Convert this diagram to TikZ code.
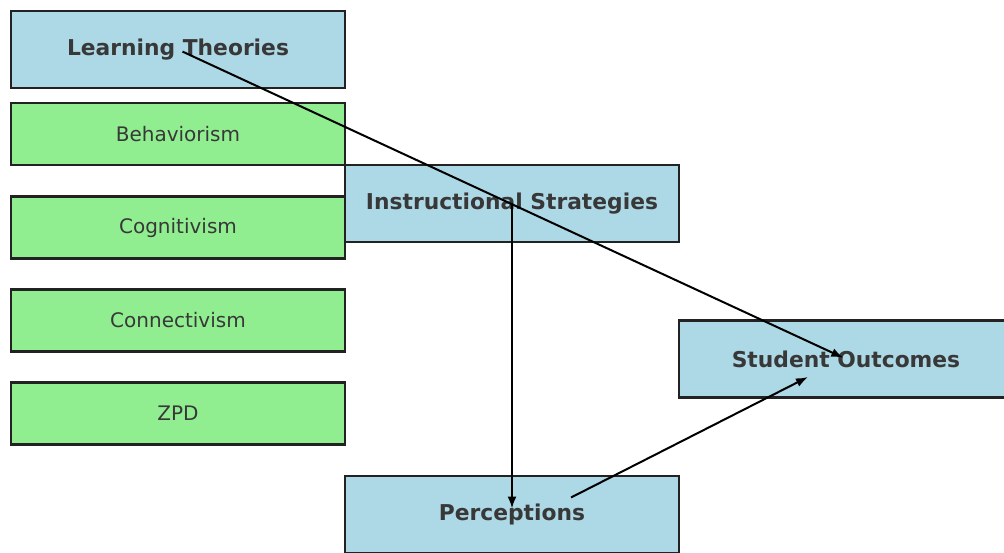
\documentclass[tikz,border=0pt]{standalone}
\usepackage{fontspec}
\setmainfont{DejaVu Sans}
\usetikzlibrary{arrows.meta,calc}
\definecolor{boxblue}{HTML}{ADD8E6}
\definecolor{boxgreen}{HTML}{90EE90}
\definecolor{edgegray}{HTML}{222222}
\definecolor{textgray}{HTML}{383838}
\begin{document}
\begin{tikzpicture}[x=1pt,y=-1pt,
  basebox/.style={draw=edgegray,line width=2.2pt,inner sep=0pt,text=textgray,
    minimum width=334pt},
  mainbox/.style={basebox,fill=boxblue,minimum height=77pt,
    font=\fontsize{21.8}{26}\selectfont\bfseries},
  theorybox/.style={basebox,fill=boxgreen,minimum height=62pt,
    font=\fontsize{20}{24}\selectfont},
  link/.style={line width=2pt,black,-{Latex[length=12pt,width=9pt]}}]
\useasboundingbox (0,0) rectangle (1004,553);
\clip (0,0) rectangle (1004,553);
% main concept boxes
\node[mainbox] (lt) at (178,49.5) {Learning Theories};
\node[mainbox] (is) at (512,203.5) {Instructional Strategies};
\node[mainbox] (so) at (846,359) {Student Outcomes};
\node[mainbox] (pe) at (512,514.5) {Perceptions};
% theory boxes
\node[theorybox] (beh) at (178,134) {Behaviorism};
\node[theorybox] (cog) at (178,227.5) {Cognitivism};
\node[theorybox] (con) at (178,320.5) {Connectivism};
\node[theorybox] (zpd) at (178,413.5) {ZPD};
% connectors
\coordinate (peout) at ($(pe.center)+(59,-17)$);
\coordinate (soin) at ($(so.center)+(-38,18)$);
\draw[link,shorten <=5pt,shorten >=3pt] (lt.center) -- (so.center);
\draw[link,shorten >=6pt] (is.center) -- (pe.center);
\draw[link] (peout) -- (soin);
\end{tikzpicture}
\end{document}
